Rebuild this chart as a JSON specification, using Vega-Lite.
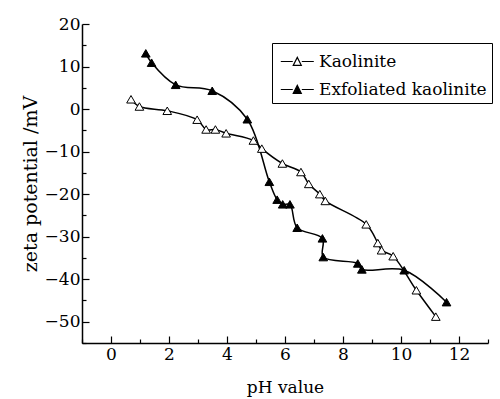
{
  "$schema": "https://vega.github.io/schema/vega-lite/v6.json",
  "autosize": {"type": "none"},
  "width": 406,
  "height": 319,
  "padding": {"left": 82, "top": 24, "right": 12, "bottom": 56},
  "background": "white",
  "config": {
    "view": {"stroke": null},
    "font": "DejaVu Serif",
    "axis": {"grid": false, "domainColor": "black", "domainWidth": 1.5, "tickColor": "black", "tickWidth": 1.2, "labelColor": "black", "titleColor": "black", "labelFont": "DejaVu Serif", "titleFont": "DejaVu Serif", "labelFontSize": 17, "titleFontSize": 17, "titleFontWeight": "normal"}
  },
  "datasets": {
    "zeta": [
      {"series": "Kaolinite", "pH": 0.69, "zeta": 2.3},
      {"series": "Kaolinite", "pH": 0.98, "zeta": 0.6},
      {"series": "Kaolinite", "pH": 1.94, "zeta": -0.4},
      {"series": "Kaolinite", "pH": 2.97, "zeta": -2.5},
      {"series": "Kaolinite", "pH": 3.28, "zeta": -4.8},
      {"series": "Kaolinite", "pH": 3.6, "zeta": -4.8},
      {"series": "Kaolinite", "pH": 3.97, "zeta": -5.7},
      {"series": "Kaolinite", "pH": 4.91, "zeta": -7.4},
      {"series": "Kaolinite", "pH": 5.2, "zeta": -9.3},
      {"series": "Kaolinite", "pH": 5.91, "zeta": -12.8},
      {"series": "Kaolinite", "pH": 6.55, "zeta": -14.8},
      {"series": "Kaolinite", "pH": 6.82, "zeta": -17.6},
      {"series": "Kaolinite", "pH": 7.2, "zeta": -20.0},
      {"series": "Kaolinite", "pH": 7.39, "zeta": -21.6},
      {"series": "Kaolinite", "pH": 8.8, "zeta": -27.1},
      {"series": "Kaolinite", "pH": 9.2, "zeta": -31.5},
      {"series": "Kaolinite", "pH": 9.33, "zeta": -33.2},
      {"series": "Kaolinite", "pH": 9.73, "zeta": -34.6},
      {"series": "Kaolinite", "pH": 10.53, "zeta": -42.6},
      {"series": "Kaolinite", "pH": 11.2, "zeta": -48.8},
      {"series": "Exfoliated kaolinite", "pH": 1.2, "zeta": 13.1},
      {"series": "Exfoliated kaolinite", "pH": 1.4, "zeta": 10.9},
      {"series": "Exfoliated kaolinite", "pH": 2.23, "zeta": 5.7},
      {"series": "Exfoliated kaolinite", "pH": 3.49, "zeta": 4.3},
      {"series": "Exfoliated kaolinite", "pH": 4.7, "zeta": -2.4},
      {"series": "Exfoliated kaolinite", "pH": 5.46, "zeta": -17.1},
      {"series": "Exfoliated kaolinite", "pH": 5.73, "zeta": -21.3},
      {"series": "Exfoliated kaolinite", "pH": 5.92, "zeta": -22.4},
      {"series": "Exfoliated kaolinite", "pH": 6.17, "zeta": -22.4},
      {"series": "Exfoliated kaolinite", "pH": 6.42, "zeta": -27.9},
      {"series": "Exfoliated kaolinite", "pH": 7.29, "zeta": -30.4},
      {"series": "Exfoliated kaolinite", "pH": 7.32, "zeta": -34.8},
      {"series": "Exfoliated kaolinite", "pH": 8.51, "zeta": -36.3},
      {"series": "Exfoliated kaolinite", "pH": 8.65, "zeta": -37.7},
      {"series": "Exfoliated kaolinite", "pH": 10.11, "zeta": -37.9},
      {"series": "Exfoliated kaolinite", "pH": 11.57, "zeta": -45.4}
    ]
  },
  "resolve": {"axis": {"x": "independent", "y": "independent"}},
  "layer": [
    {
      "data": {"name": "zeta"},
      "mark": {"type": "line", "interpolate": "catmull-rom", "color": "black", "strokeWidth": 1.5},
      "encoding": {
        "x": {"field": "pH", "type": "quantitative", "scale": {"domain": [-1, 13], "nice": false, "zero": false},
              "axis": {"orient": "bottom", "title": "pH value", "values": [0, 2, 4, 6, 8, 10, 12], "tickSize": -7, "labelPadding": 10, "titlePadding": 17}},
        "y": {"field": "zeta", "type": "quantitative", "scale": {"domain": [-55, 20], "nice": false, "zero": false},
              "axis": {"orient": "left", "title": "zeta potential /mV", "titleFontSize": 19, "values": [-50, -40, -30, -20, -10, 0, 10, 20], "tickSize": -7, "labelPadding": 9, "titlePadding": 4}},
        "detail": {"field": "series"}
      }
    },
    {
      "data": {"name": "zeta"},
      "mark": {"type": "point", "shape": "triangle-up", "filled": true, "stroke": "black", "strokeWidth": 1, "size": 75, "opacity": 1},
      "encoding": {
        "x": {"field": "pH", "type": "quantitative",
              "axis": {"orient": "bottom", "title": null, "labels": false, "domain": false, "values": [-1, 1, 3, 5, 7, 9, 11, 13], "tickSize": -4}},
        "y": {"field": "zeta", "type": "quantitative", "axis": null},
        "fill": {"field": "series", "type": "nominal",
                 "scale": {"domain": ["Kaolinite", "Exfoliated kaolinite"], "range": ["white", "black"]},
                 "legend": {"title": null, "orient": "none", "legendX": 190, "legendY": 19,
                            "symbolType": "M-0.765,0H0.18M0.89,0H1.835M0.22,0.3L0.535,-0.32L0.85,0.3Z",
                            "symbolSize": 645, "symbolStrokeColor": "black", "symbolStrokeWidth": 1.2,
                            "labelFont": "DejaVu Serif", "labelFontSize": 17, "labelColor": "black", "labelLimit": 400,
                            "strokeColor": "black", "padding": 5, "rowPadding": 6, "labelOffset": 15, "fillColor": "white"}}
      }
    },
    {
      "mark": {"type": "rule", "color": "black", "strokeWidth": 1.4},
      "encoding": {
        "y": {"datum": 0, "type": "quantitative",
              "axis": {"orient": "left", "title": null, "labels": false, "domain": false, "values": [-55, -45, -35, -25, -15, -5, 5, 15], "tickSize": -4}}
      }
    }
  ]
}
